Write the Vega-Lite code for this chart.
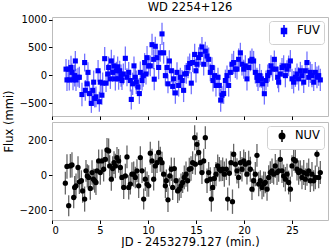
{
"$schema": "https://vega.github.io/schema/vega-lite/v6.json",
"padding": {"left": 2, "top": 1, "right": 7, "bottom": 0},
"spacing": 6,
"bounds": "flush",
"config": {
  "font": "DejaVu Sans",
  "view": {"stroke": "#bcbcbc", "strokeWidth": 1},
  "axis": {"labelFont": "DejaVu Sans", "labelFontSize": 10, "labelColor": "black", "titleFont": "DejaVu Sans", "titleFontSize": 11.5, "titleFontWeight": "normal", "titleColor": "black", "tickColor": "black", "tickSize": 3.5, "domain": false, "grid": false, "labelPadding": 2, "format": "d"},
  "legend": {"labelFont": "DejaVu Sans", "labelFontSize": 11.5, "labelColor": "black", "strokeColor": "#d0d0d0", "fillColor": "white", "cornerRadius": 3, "padding": 4, "orient": "top-right", "offset": 4, "symbolSize": 100, "symbolOffset": 5, "labelOffset": 7, "symbolStrokeWidth": 1.5}
},
"resolve": {"scale": {"color": "independent", "x": "independent", "y": "independent"}, "legend": {"color": "independent"}},
"datasets": {
"fuv": [
{"t":1.46,"f":110,"e":180},{"t":1.56,"f":-83,"e":200},{"t":1.74,"f":110,"e":170},{"t":1.8,"f":-83,"e":190},{"t":1.98,"f":140,"e":210},{"t":2.08,"f":52,"e":160},{"t":2.19,"f":-83,"e":185},{"t":2.36,"f":-6,"e":195},{"t":2.43,"f":257,"e":180},{"t":2.5,"f":-83,"e":200},{"t":2.7,"f":-36,"e":170},{"t":2.85,"f":-36,"e":190},{"t":3.12,"f":-345,"e":210},{"t":3.4,"f":228,"e":160},{"t":3.47,"f":-270,"e":185},{"t":3.65,"f":-153,"e":195},{"t":3.75,"f":52,"e":180},{"t":3.9,"f":-328,"e":200},{"t":4.1,"f":-504,"e":170},{"t":4.24,"f":-270,"e":190},{"t":4.34,"f":-124,"e":210},{"t":4.44,"f":-416,"e":160},{"t":4.58,"f":-386,"e":185},{"t":4.8,"f":81,"e":195},{"t":4.93,"f":-474,"e":180},{"t":5.03,"f":-124,"e":200},{"t":5.2,"f":-357,"e":170},{"t":5.28,"f":-141,"e":190},{"t":5.49,"f":298,"e":210},{"t":5.63,"f":-141,"e":160},{"t":5.8,"f":23,"e":185},{"t":5.9,"f":140,"e":195},{"t":6.08,"f":-64,"e":180},{"t":6.18,"f":257,"e":200},{"t":6.32,"f":52,"e":170},{"t":6.46,"f":169,"e":190},{"t":6.6,"f":-64,"e":210},{"t":6.7,"f":81,"e":160},{"t":6.84,"f":152,"e":185},{"t":6.94,"f":-64,"e":195},{"t":7.05,"f":81,"e":180},{"t":7.19,"f":-6,"e":200},{"t":7.29,"f":-94,"e":170},{"t":7.43,"f":23,"e":190},{"t":7.64,"f":304,"e":210},{"t":7.81,"f":-36,"e":160},{"t":7.99,"f":52,"e":185},{"t":8.16,"f":-94,"e":195},{"t":8.26,"f":-433,"e":180},{"t":8.4,"f":-153,"e":200},{"t":8.54,"f":169,"e":170},{"t":8.68,"f":-36,"e":190},{"t":8.78,"f":-124,"e":210},{"t":8.96,"f":-211,"e":160},{"t":9.1,"f":-328,"e":185},{"t":9.2,"f":52,"e":195},{"t":9.38,"f":-94,"e":180},{"t":9.51,"f":-6,"e":200},{"t":9.65,"f":228,"e":170},{"t":9.79,"f":23,"e":190},
{"t":9.9,"f":316,"e":210},{"t":10.07,"f":169,"e":160},{"t":10.24,"f":169,"e":185},{"t":10.42,"f":549,"e":195},{"t":10.59,"f":286,"e":180},{"t":10.65,"f":-70,"e":200},{"t":10.76,"f":520,"e":170},{"t":10.94,"f":316,"e":190},{"t":11.11,"f":140,"e":210},{"t":11.28,"f":403,"e":160},{"t":11.46,"f":742,"e":200},{"t":11.63,"f":403,"e":195},{"t":11.81,"f":-6,"e":180},{"t":11.98,"f":140,"e":200},{"t":12.08,"f":-153,"e":170},{"t":12.22,"f":257,"e":190},{"t":12.43,"f":81,"e":210},{"t":12.57,"f":-199,"e":160},{"t":12.67,"f":-64,"e":185},{"t":12.85,"f":-316,"e":195},{"t":13.02,"f":52,"e":180},{"t":13.19,"f":-182,"e":200},{"t":13.37,"f":-36,"e":170},{"t":13.54,"f":-94,"e":190},{"t":13.71,"f":-270,"e":210},{"t":13.82,"f":23,"e":160},{"t":13.99,"f":34,"e":185},{"t":14.17,"f":140,"e":195},{"t":14.34,"f":210,"e":180},{"t":14.51,"f":-141,"e":200},{"t":14.65,"f":228,"e":170},{"t":14.86,"f":374,"e":190},{"t":15.0,"f":81,"e":210},{"t":15.1,"f":198,"e":160},{"t":15.28,"f":316,"e":185},{"t":15.45,"f":374,"e":195},{"t":15.62,"f":508,"e":180},{"t":15.8,"f":198,"e":200},{"t":15.97,"f":432,"e":170},{"t":16.15,"f":345,"e":190},{"t":16.32,"f":286,"e":210},{"t":16.49,"f":52,"e":160},{"t":16.67,"f":140,"e":185},{"t":16.77,"f":-94,"e":195},{"t":16.94,"f":-6,"e":180},{"t":17.08,"f":-182,"e":200},{"t":17.29,"f":-36,"e":170},{"t":17.43,"f":-182,"e":190},{"t":17.57,"f":-445,"e":210},{"t":17.71,"f":-357,"e":160},{"t":17.88,"f":-328,"e":185},{"t":18.06,"f":-94,"e":195},{"t":18.23,"f":-6,"e":180},{"t":18.4,"f":-182,"e":200},{"t":18.58,"f":52,"e":170},{"t":18.75,"f":198,"e":190},{"t":18.92,"f":228,"e":210},{"t":19.1,"f":110,"e":160},
{"t":19.27,"f":110,"e":185},{"t":19.44,"f":286,"e":195},{"t":19.62,"f":403,"e":180},{"t":19.79,"f":198,"e":200},{"t":19.97,"f":110,"e":170},{"t":20.14,"f":169,"e":190},{"t":20.31,"f":-64,"e":210},{"t":20.49,"f":140,"e":160},{"t":20.66,"f":257,"e":185},{"t":20.83,"f":286,"e":195},{"t":21.0,"f":257,"e":180},{"t":21.18,"f":52,"e":200},{"t":21.35,"f":-36,"e":170},{"t":21.46,"f":-94,"e":190},{"t":21.63,"f":-6,"e":210},{"t":21.81,"f":-64,"e":160},{"t":21.94,"f":-153,"e":185},{"t":22.12,"f":-330,"e":195},{"t":22.29,"f":-94,"e":180},{"t":22.47,"f":-6,"e":200},{"t":22.64,"f":52,"e":170},{"t":22.81,"f":169,"e":190},{"t":22.99,"f":110,"e":210},{"t":23.16,"f":286,"e":160},{"t":23.33,"f":110,"e":185},{"t":23.51,"f":-36,"e":195},{"t":23.61,"f":-124,"e":180},{"t":23.78,"f":23,"e":200},{"t":23.96,"f":140,"e":170},{"t":24.13,"f":169,"e":190},{"t":24.31,"f":-6,"e":210},{"t":24.48,"f":110,"e":160},{"t":24.65,"f":169,"e":185},{"t":24.83,"f":257,"e":195},{"t":25.0,"f":-64,"e":180},{"t":25.17,"f":-124,"e":200},{"t":25.35,"f":-36,"e":170},{"t":25.52,"f":23,"e":190},{"t":25.69,"f":-64,"e":210},{"t":25.87,"f":81,"e":160},{"t":26.04,"f":-6,"e":185},{"t":26.22,"f":-124,"e":195},{"t":26.39,"f":81,"e":180},{"t":26.56,"f":228,"e":200},{"t":26.74,"f":-36,"e":170},{"t":26.91,"f":52,"e":190},{"t":27.08,"f":-6,"e":210},{"t":27.26,"f":-124,"e":160},{"t":27.43,"f":52,"e":185},{"t":27.6,"f":-36,"e":195},{"t":27.78,"f":-6,"e":180},{"t":27.95,"f":-83,"e":200}
],
"nuv": [
{"t":1.39,"f":-46,"e":65},{"t":1.56,"f":50,"e":70},{"t":1.74,"f":-175,"e":60},{"t":1.91,"f":53,"e":68},{"t":2.08,"f":59,"e":72},{"t":2.26,"f":-128,"e":62},{"t":2.36,"f":-70,"e":66},{"t":2.5,"f":-61,"e":70},{"t":2.71,"f":44,"e":65},{"t":2.85,"f":-38,"e":70},{"t":3.06,"f":-32,"e":60},{"t":3.19,"f":-90,"e":68},{"t":3.4,"f":-137,"e":72},{"t":3.54,"f":25,"e":62},{"t":3.68,"f":-4,"e":66},{"t":3.82,"f":-13,"e":70},{"t":3.99,"f":-76,"e":65},{"t":4.17,"f":15,"e":70},{"t":4.31,"f":-23,"e":60},{"t":4.44,"f":-32,"e":68},{"t":4.58,"f":-42,"e":72},{"t":4.69,"f":25,"e":62},{"t":4.86,"f":82,"e":66},{"t":5.03,"f":15,"e":70},{"t":5.21,"f":82,"e":65},{"t":5.38,"f":34,"e":70},{"t":5.56,"f":91,"e":60},{"t":5.73,"f":145,"e":68},{"t":5.9,"f":139,"e":72},{"t":6.01,"f":53,"e":62},{"t":6.18,"f":-23,"e":66},{"t":6.32,"f":38,"e":70},{"t":6.46,"f":72,"e":65},{"t":6.6,"f":53,"e":70},{"t":6.77,"f":101,"e":60},{"t":6.94,"f":82,"e":68},{"t":7.12,"f":44,"e":72},{"t":7.29,"f":-13,"e":62},{"t":7.47,"f":-70,"e":66},{"t":7.64,"f":-4,"e":70},{"t":7.81,"f":105,"e":65},{"t":7.99,"f":-70,"e":70},{"t":8.16,"f":-51,"e":60},{"t":8.33,"f":6,"e":68},{"t":8.51,"f":6,"e":72},{"t":8.68,"f":-13,"e":62},{"t":8.85,"f":25,"e":66},{"t":9.03,"f":-61,"e":70},{"t":9.2,"f":101,"e":65},{"t":9.38,"f":25,"e":70},{"t":9.55,"f":-137,"e":60},{"t":9.72,"f":-23,"e":68},
{"t":9.9,"f":-51,"e":72},{"t":10.07,"f":-61,"e":62},{"t":10.24,"f":126,"e":66},{"t":10.42,"f":82,"e":70},{"t":10.59,"f":-23,"e":65},{"t":10.76,"f":53,"e":70},{"t":10.94,"f":72,"e":60},{"t":11.11,"f":130,"e":68},{"t":11.28,"f":91,"e":72},{"t":11.46,"f":72,"e":62},{"t":11.63,"f":6,"e":66},{"t":11.81,"f":-61,"e":70},{"t":11.91,"f":-32,"e":65},{"t":12.08,"f":-141,"e":70},{"t":12.26,"f":-4,"e":60},{"t":12.43,"f":34,"e":68},{"t":12.57,"f":-70,"e":72},{"t":12.74,"f":38,"e":62},{"t":12.92,"f":-32,"e":66},{"t":13.09,"f":-90,"e":70},{"t":13.26,"f":-80,"e":65},{"t":13.44,"f":-61,"e":70},{"t":13.61,"f":-42,"e":60},{"t":13.78,"f":-13,"e":68},{"t":13.96,"f":6,"e":72},{"t":14.13,"f":-32,"e":62},{"t":14.3,"f":34,"e":66},{"t":14.48,"f":38,"e":70},{"t":14.65,"f":72,"e":65},{"t":14.86,"f":215,"e":72},{"t":14.93,"f":63,"e":60},{"t":15.1,"f":177,"e":68},{"t":15.28,"f":130,"e":72},{"t":15.45,"f":72,"e":62},{"t":15.62,"f":15,"e":66},{"t":15.8,"f":82,"e":70},{"t":15.97,"f":215,"e":65},{"t":16.15,"f":-32,"e":70},{"t":16.32,"f":15,"e":60},{"t":16.49,"f":-23,"e":68},{"t":16.6,"f":-137,"e":72},{"t":16.74,"f":-70,"e":62},{"t":16.91,"f":-19,"e":66},{"t":17.08,"f":6,"e":70},{"t":17.26,"f":53,"e":65},{"t":17.43,"f":34,"e":70},{"t":17.6,"f":25,"e":60},{"t":17.78,"f":34,"e":68},{"t":17.95,"f":6,"e":72},{"t":18.16,"f":34,"e":62},{"t":18.3,"f":-137,"e":66},{"t":18.47,"f":11,"e":70},{"t":18.65,"f":72,"e":65},{"t":18.8,"f":-152,"e":70},{"t":18.92,"f":120,"e":60},{"t":19.1,"f":63,"e":68},
{"t":19.27,"f":25,"e":72},{"t":19.44,"f":-13,"e":62},{"t":19.62,"f":72,"e":66},{"t":19.79,"f":34,"e":70},{"t":19.97,"f":82,"e":65},{"t":20.14,"f":63,"e":70},{"t":20.31,"f":6,"e":60},{"t":20.49,"f":72,"e":68},{"t":20.66,"f":34,"e":72},{"t":20.83,"f":-80,"e":62},{"t":21.01,"f":-32,"e":66},{"t":21.18,"f":6,"e":70},{"t":21.35,"f":114,"e":65},{"t":21.53,"f":-51,"e":70},{"t":21.7,"f":-32,"e":60},{"t":21.88,"f":-70,"e":68},{"t":22.05,"f":-51,"e":72},{"t":22.22,"f":-42,"e":62},{"t":22.4,"f":-80,"e":66},{"t":22.57,"f":-13,"e":70},{"t":22.74,"f":15,"e":65},{"t":22.92,"f":25,"e":70},{"t":23.09,"f":6,"e":60},{"t":23.26,"f":53,"e":68},{"t":23.44,"f":15,"e":72},{"t":23.61,"f":25,"e":62},{"t":23.78,"f":91,"e":66},{"t":23.96,"f":25,"e":70},{"t":24.13,"f":-4,"e":65},{"t":24.31,"f":-23,"e":70},{"t":24.48,"f":6,"e":60},{"t":24.65,"f":-42,"e":68},{"t":24.83,"f":-80,"e":72},{"t":25.0,"f":53,"e":62},{"t":25.17,"f":91,"e":66},{"t":25.35,"f":82,"e":70},{"t":25.52,"f":34,"e":65},{"t":25.69,"f":15,"e":70},{"t":25.87,"f":25,"e":60},{"t":26.04,"f":-13,"e":68},{"t":26.22,"f":15,"e":72},{"t":26.39,"f":-23,"e":62},{"t":26.56,"f":6,"e":66},{"t":26.74,"f":25,"e":70},{"t":26.91,"f":-32,"e":65},{"t":27.08,"f":6,"e":70},{"t":27.26,"f":-32,"e":60},{"t":27.43,"f":-13,"e":68},{"t":27.6,"f":120,"e":72},{"t":27.78,"f":-13,"e":62},{"t":27.95,"f":15,"e":66}
]
},
"vconcat": [
{
  "title": {"text": "WD 2254+126", "font": "DejaVu Sans", "fontSize": 11.5, "fontWeight": "normal", "color": "black", "anchor": "middle", "offset": 1},
  "width": 276, "height": 99,
  "data": {"name": "fuv"},
  "encoding": {
    "x": {"field": "t", "type": "quantitative", "scale": {"domain": [0, 28.75], "nice": false, "zero": false}, "axis": {"values": [0, 5, 10, 15, 20, 25], "labels": false, "title": null}},
    "y": {"field": "f", "type": "quantitative", "scale": {"domain": [-730, 1045], "nice": false, "zero": false}, "axis": {"values": [-500, 0, 500, 1000], "title": "Flux (mmi)", "titleX": -38, "titleY": 104, "titleAngle": -90, "titleBaseline": "bottom", "titleAlign": "center"}}
  },
  "layer": [
    {"mark": {"type": "errorbar", "color": "blue", "opacity": 0.55, "thickness": 1.3}, "encoding": {"yError": {"field": "e"}}},
    {"mark": {"type": "point", "shape": "square", "filled": true, "size": 26, "opacity": 1},
     "encoding": {"color": {"datum": "FUV", "scale": {"range": ["blue"]},
        "legend": {"title": null, "symbolType": "M0,-1.2V1.2M-0.5,-0.5H0.5V0.5H-0.5Z", "symbolStrokeColor": "blue", "symbolFillColor": "blue",
          "encode": {"symbols": {"update": {"stroke": {"value": "blue"}, "fill": {"value": "blue"}, "strokeWidth": {"value": 1.5}, "opacity": {"value": 1}}}}}}}}
  ]
},
{
  "width": 276, "height": 98,
  "data": {"name": "nuv"},
  "encoding": {
    "x": {"field": "t", "type": "quantitative", "scale": {"domain": [0, 28.75], "nice": false, "zero": false}, "axis": {"values": [0, 5, 10, 15, 20, 25], "title": "JD - 2453279.127 (min.)", "titlePadding": 1, "labelPadding": 1.5}},
    "y": {"field": "f", "type": "quantitative", "scale": {"domain": [-257, 305], "nice": false, "zero": false}, "axis": {"values": [-200, 0, 200], "title": null}}
  },
  "layer": [
    {"mark": {"type": "errorbar", "color": "black", "opacity": 0.6, "thickness": 1.3}, "encoding": {"yError": {"field": "e"}}},
    {"mark": {"type": "point", "shape": "circle", "filled": true, "size": 28, "opacity": 1},
     "encoding": {"color": {"datum": "NUV", "scale": {"range": ["black"]},
        "legend": {"title": null, "symbolType": "M0,-1.2V1.2M-0.55,0A0.55,0.55 0 1,0 0.55,0A0.55,0.55 0 1,0 -0.55,0Z", "symbolStrokeColor": "black", "symbolFillColor": "black",
          "encode": {"symbols": {"update": {"stroke": {"value": "black"}, "fill": {"value": "black"}, "strokeWidth": {"value": 1.5}, "opacity": {"value": 1}}}}}}}}
  ]
}
]
}
